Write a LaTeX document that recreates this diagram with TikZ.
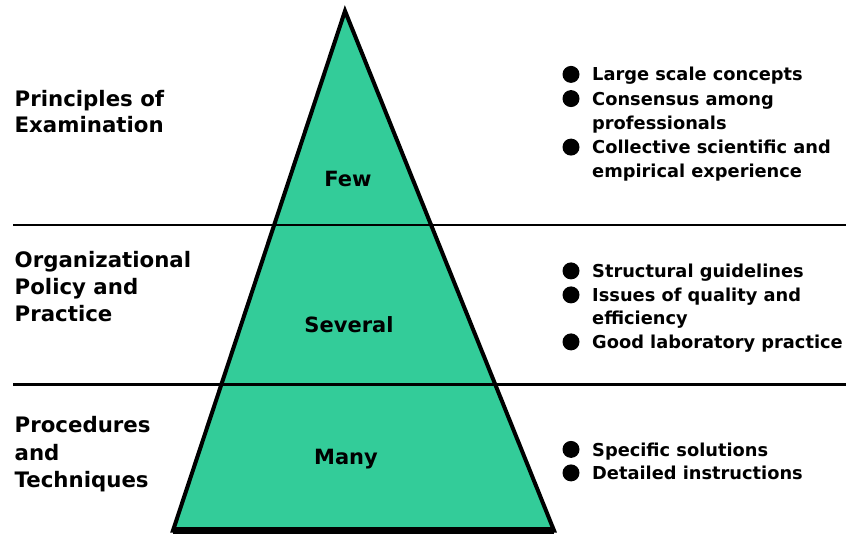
\documentclass[tikz,border=0pt]{standalone}
\usepackage{fontspec}
\setmainfont{DejaVu Sans}
\newfontfamily\headfont{DejaVu Sans}
\newfontfamily\itemfont{DejaVu Sans}
\definecolor{pyrgreen}{RGB}{51,204,153}
\begin{document}
\begin{tikzpicture}[x=1pt,y=-1pt,
  head/.style={anchor=base west, inner sep=0pt, font=\headfont\bfseries\fontsize{21.3}{25}\selectfont},
  tier/.style={anchor=base, inner sep=0pt, font=\headfont\bfseries\fontsize{21}{25}\selectfont},
  item/.style={anchor=base west, inner sep=0pt, font=\itemfont\bfseries\fontsize{17.8}{22}\selectfont},
  dot/.style={circle, fill=black, inner sep=0pt, minimum size=17pt},
  divider/.style={line width=2.6pt},
  outline/.style={line width=4pt, line join=miter},
]
\useasboundingbox (0,0) rectangle (846,537);

% pyramid body
\coordinate (apex) at (345,11);
\coordinate (bl) at (173,530.5);
\coordinate (br) at (554,530.5);
\fill[pyrgreen] (apex) -- (bl) -- (br) -- cycle;

% level dividers
\coordinate (d1w) at (13,225);  \coordinate (d1e) at (846,225);
\coordinate (d2w) at (13,384.5); \coordinate (d2e) at (846,384.5);
\draw[divider] (d1w) -- (d1e);
\draw[divider] (d2w) -- (d2e);

% pyramid outline, heavier base
\draw[outline] (apex) -- (bl) -- (br) -- cycle;
\draw[line width=7pt] (bl) -- (br);

% tier names inside the pyramid
\node[tier] (few) at (348,187) {Few};
\node[tier] (several) at (349,332) {Several};
\node[tier] (many) at (346,464) {Many};

% level headings
\node[head] (h1a) at (14.5,107) {Principles of};
\node[head] (h1b) at (14.5,133) {Examination};
\node[head] (h2a) at (14.5,268) {Organizational};
\node[head] (h2b) at (14.5,295) {Policy and};
\node[head] (h2c) at (14.5,322) {Practice};
\node[head] (h3a) at (14.5,432) {Procedures};
\node[head] (h3b) at (14.5,460) {and};
\node[head] (h3c) at (14.5,487) {Techniques};

% characteristics, top level
\node[dot] (b1a) at (571,74.4) {};
\node[item] (t1a) at (592,81) {Large scale concepts};
\node[dot] (b1b) at (571,98.6) {};
\node[item] (t1b) at (592,105.25) {Consensus among};
\node[item] (t1c) at (592,129.5) {professionals};
\node[dot] (b1c) at (571,147.1) {};
\node[item] (t1d) at (592,153.75) {Collective scientific and};
\node[item] (t1e) at (592,178) {empirical experience};

% characteristics, middle level
\node[dot] (b2a) at (571,270.9) {};
\node[item] (t2a) at (592,277.5) {Structural guidelines};
\node[dot] (b2b) at (571,294.9) {};
\node[item] (t2b) at (592,301.5) {Issues of quality and};
\node[item] (t2c) at (592,325) {efficiency};
\node[dot] (b2c) at (571,341.9) {};
\node[item] (t2d) at (592,348.5) {Good laboratory practice};

% characteristics, bottom level
\node[dot] (b3a) at (571,449.4) {};
\node[item] (t3a) at (592,456) {Specific solutions};
\node[dot] (b3b) at (571,472.9) {};
\node[item] (t3b) at (592,479.5) {Detailed instructions};
\end{tikzpicture}
\end{document}
